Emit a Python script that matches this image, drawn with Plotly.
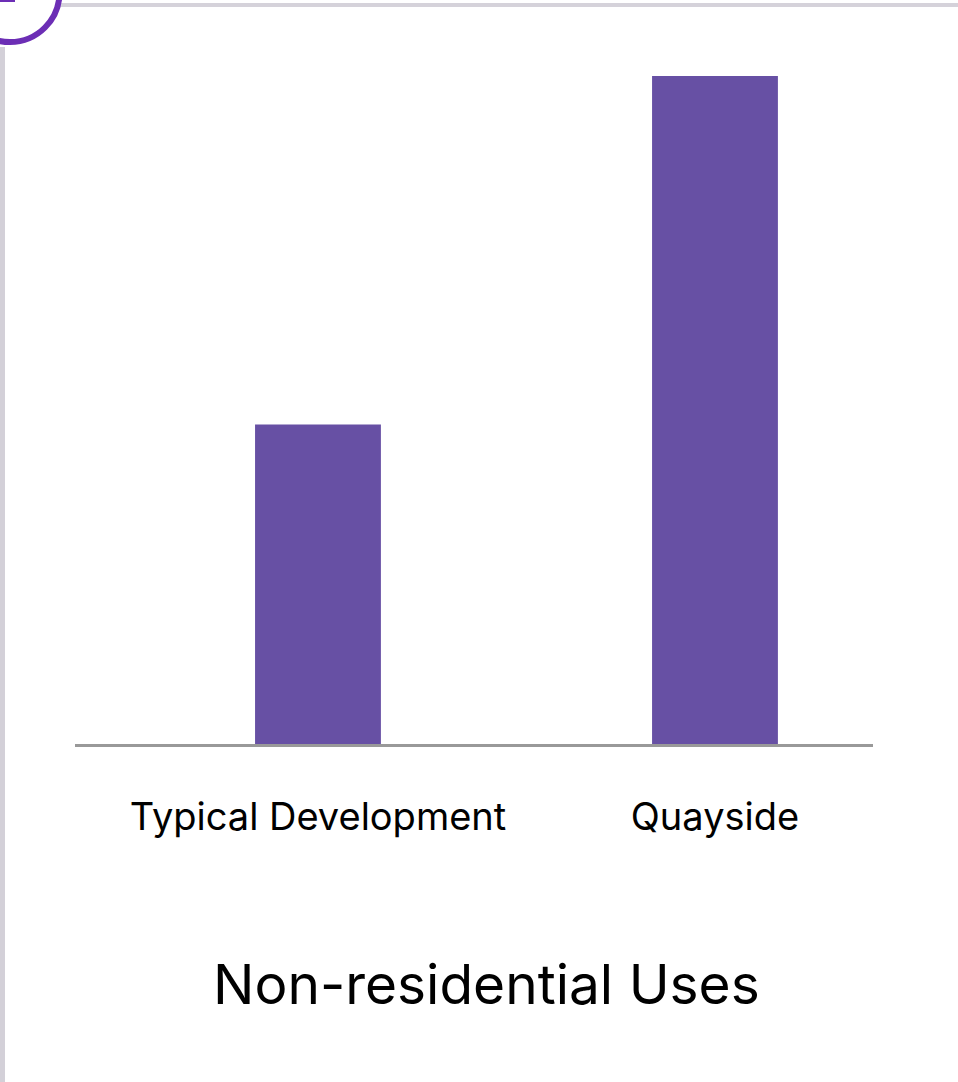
import plotly.graph_objects as go

categories = ["Typical Development", "Quayside"]
values = [22, 46]
title_text = "Non-residential Uses"

BAR_COLOR = "#6750A4"
W, H = 958, 1082
L, R, T, B = 75, 85, 76, 338
PW, PH = W - L - R, H - T - B

def px_x(px):
    return (px - L) / PW

def px_y(py):
    return (H - B - py) / PH

fig = go.Figure(go.Bar(
    x=categories, y=values, marker_color=BAR_COLOR, width=0.317,
    marker_line_width=0,
))

shapes = [
    # left border
    dict(type="rect", xref="paper", yref="paper", x0=px_x(0), x1=px_x(5), y0=px_y(47), y1=px_y(1082),
         fillcolor="#d3d0d8", line_width=0, layer="above"),
    # top border
    dict(type="rect", xref="paper", yref="paper", x0=px_x(30), x1=px_x(958), y0=px_y(3), y1=px_y(7),
         fillcolor="#d5d2da", line_width=0, layer="above"),
    # circle
    dict(type="circle", xref="paper", yref="paper",
         x0=px_x(10 - 49.5), x1=px_x(10 + 49.5), y0=px_y(-7.5 + 49.5), y1=px_y(-7.5 - 49.5),
         fillcolor="white", line=dict(color="#6c2eb5", width=6), layer="above"),
    dict(type="rect", xref="paper", yref="paper", x0=px_x(0), x1=px_x(15), y0=px_y(0), y1=px_y(2),
         fillcolor="#6c2eb5", line_width=0, layer="above"),
]

fig.update_layout(
    width=W, height=H,
    margin=dict(l=L, r=R, t=T, b=B, pad=0),
    paper_bgcolor="white", plot_bgcolor="white",
    showlegend=False,
    shapes=shapes,
    font=dict(family="Inter, Roboto, sans-serif", color="#000000"),
    xaxis=dict(
        range=[-0.612, 1.398], showgrid=False, zeroline=False,
        showline=True, linecolor="#999999", linewidth=3,
        ticks="", tickfont=dict(size=38, color="#000000"),
        ticklabelstandoff=37,
    ),
    yaxis=dict(range=[0, 46], visible=False, showgrid=False, zeroline=False),
    annotations=[dict(
        text=title_text, xref="paper", yref="paper",
        x=px_x(486), y=px_y(984), xanchor="center", yanchor="middle",
        showarrow=False, font=dict(size=55, color="#000000"),
    )],
)

fig.write_html("out.html")
